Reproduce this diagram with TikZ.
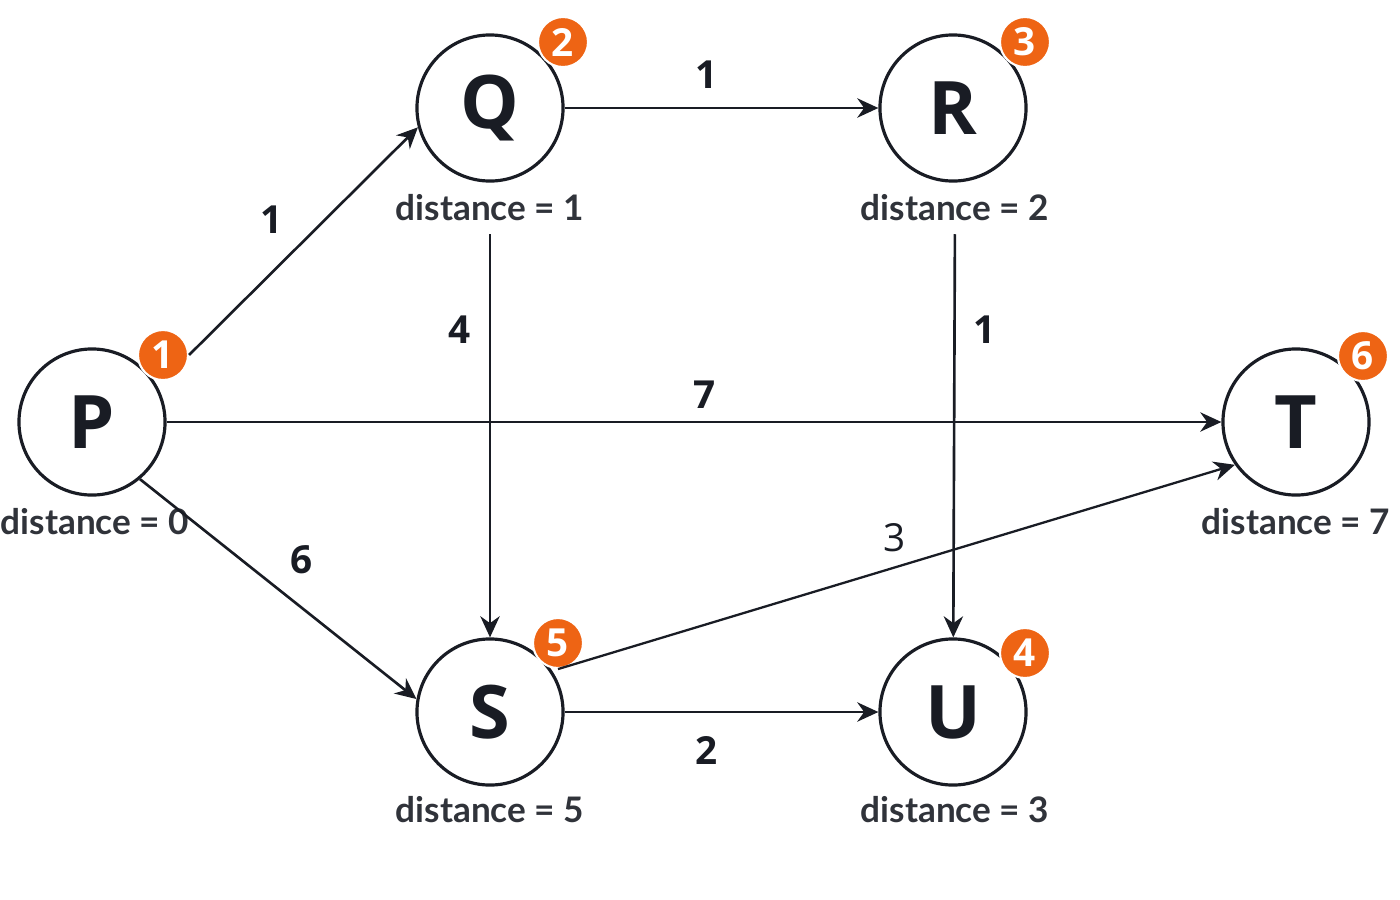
\documentclass[tikz,border=0pt]{standalone}
\usepackage{fontspec}
\setmainfont{Open Sans}
\newfontfamily\distfont{Lato}
\usetikzlibrary{arrows.meta,positioning}
\definecolor{ink}{RGB}{25,28,36}
\definecolor{badgeor}{RGB}{238,100,20}
\begin{document}
\begin{tikzpicture}[x=0.01cm,y=-0.01cm,line width=0.75pt,draw=ink,>={Stealth[length=6pt,width=5.5pt]},
  vert/.style={circle,draw=ink,line width=0.9pt,minimum size=1.46cm,inner sep=0pt,font=\fontsize{21}{21}\selectfont\bfseries,text=ink},
  badge/.style={circle,fill=badgeor,draw=white,line width=0.6pt,minimum size=0.5cm,inner sep=0pt,text=white,font=\fontsize{11}{11}\selectfont\bfseries},
  dist/.style={font=\distfont\fontsize{10}{10}\selectfont\bfseries,text=ink!90},
  wt/.style={font=\fontsize{11}{11}\selectfont\bfseries,text=ink}]
  \useasboundingbox (0,0) rectangle (1400,900);

  % vertices
  \node[vert] (P) at (92,422) {P};
  \node[vert] (Q) at (490,108) {Q};
  \node[vert] (R) at (953,108) {R};
  \node[vert] (T) at (1296,422) {T};
  \node[vert] (S) at (490,712) {S};
  \node[vert] (U) at (953,712) {U};

  % order badges
  \node[badge] (bP) at (163,355) {1};
  \node[badge] (bQ) at (563,42) {2};
  \node[badge] (bR) at (1025,42) {3};
  \node[badge] (bU) at (1025,653) {4};
  \node[badge] (bS) at (558,643) {5};
  \node[badge] (bT) at (1363,356) {6};

  % distances
  \node[dist] (dP) at (95,522) {distance = 0};
  \node[dist] (dQ) at (490,208) {distance = 1};
  \node[dist] (dR) at (955,208) {distance = 2};
  \node[dist] (dU) at (955,810) {distance = 3};
  \node[dist] (dS) at (490,810) {distance = 5};
  \node[dist] (dT) at (1296,522) {distance = 7};

  % edge weights
  \node[wt] (wPQ) at (272,220) {1};
  \node[wt] (wQR) at (707,75) {1};
  \node[wt] (wQS) at (460,330) {4};
  \node[wt] (wRU) at (985,330) {1};
  \node[wt] (wPT) at (705,395) {7};
  \node[wt] (wPS) at (302,560) {6};
  \node[wt,font=\fontsize{11}{11}\selectfont] (wST) at (895,538) {3};
  \node[wt] (wSU) at (707,750) {2};

  % edges
  \draw[->] (bP.east) -- (Q.195);
  \draw[->] (Q) -- (R);
  \draw[->] (dQ) -- (S);
  \draw[->] (dR) -- (U);
  \draw[->] (P) -- (T);
  \draw[->] (P.310) -- (S.170);
  \draw[->,line width=0.65pt] (bS.south) -- (T.215);
  \draw[->] (S) -- (U);
\end{tikzpicture}
\end{document}
